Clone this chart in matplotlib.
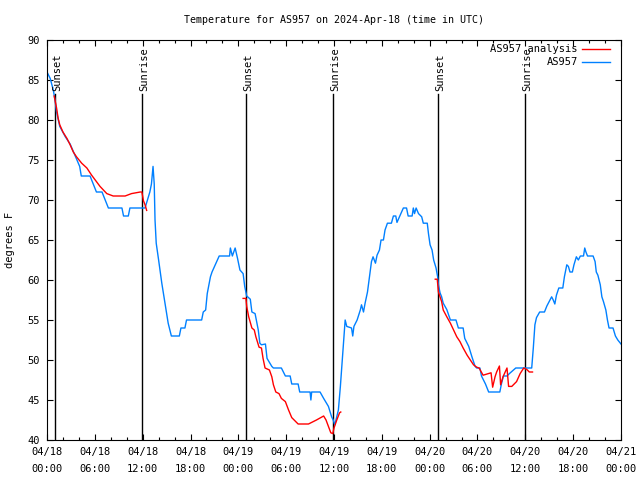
import matplotlib
matplotlib.use('Agg')
import matplotlib.pyplot as plt
import numpy as np

plt.rcParams['font.family'] = 'DejaVu Sans Mono'
plt.rcParams['font.size'] = 7

# hours since 2024-04-18 00:00 UTC
obs_hours = [0.0, 0.4, 0.8, 1.0, 1.2, 1.6, 2.3, 2.9, 3.5, 4.1, 4.3, 5.4, 5.8, 6.2, 6.9, 7.3, 7.7, 9.4, 9.6, 10.2,
             10.4, 12.3, 12.9, 13.1, 13.3, 13.45, 13.55, 13.7, 14.0, 14.4, 14.8, 15.2, 15.6, 16.6, 16.8, 17.3, 17.5,
             19.4, 19.6, 19.9, 20.1, 20.5, 20.7, 21.2, 21.6, 22.9, 23.0, 23.25, 23.6, 23.9, 24.2,
             24.6, 24.8, 25.05, 25.5, 25.7, 26.1, 26.5, 26.7, 26.9, 27.4, 27.6, 28.2, 28.4, 29.4, 29.9, 30.5, 30.7,
             31.5, 31.7, 33.0, 33.1, 33.2, 34.25, 34.7, 35.3, 35.7, 35.9, 36.1, 36.35, 36.55, 36.8, 37.1, 37.4, 37.6,
             38.2, 38.35, 38.5, 38.9, 39.3, 39.45, 39.7, 39.9, 40.2, 40.4, 40.7, 40.9, 41.2, 41.4, 41.7, 41.9, 42.2,
             42.4, 42.7, 43.2, 43.45, 43.75, 43.9, 44.3, 44.7, 45.1, 45.3, 45.8, 45.95, 46.1, 46.3, 46.6, 47.0, 47.2,
             47.7, 47.85, 48.05, 48.3, 48.5, 48.8, 49.0, 49.1, 49.3, 49.5, 49.7, 50.15, 50.6, 51.3, 51.6, 52.2, 52.4,
             52.9, 53.3, 53.7, 53.9, 54.3, 54.5, 55.0, 55.4, 56.8, 57.0, 57.25, 57.7, 58.0, 58.8, 60.8, 61.0, 61.1,
             61.2, 61.4, 61.8, 62.4, 62.7, 63.1, 63.3, 63.5, 63.7, 63.9, 64.2, 64.7, 64.9, 65.2, 65.4, 65.6, 65.9,
             66.1, 66.4, 66.65, 66.9, 67.3, 67.45, 67.6, 67.8, 68.5, 68.75, 68.9, 69.1, 69.4, 69.6, 69.8, 70.1, 70.3,
             70.5, 71.0, 71.3, 71.6, 72.0]
obs_temp = [86, 85.2, 83.7, 82.5, 81, 79.2, 77.9, 77, 75.6, 74.2, 73, 73, 72, 71, 71, 70, 69, 69, 68, 68,
            69, 69, 71, 72, 74.2, 72, 67.5, 64.6, 62.5, 59.6, 57.1, 54.6, 53, 53, 54, 54, 55,
            55, 56, 56.25, 58.3, 60.4, 61, 62.1, 63, 63, 64, 63, 64, 62.7, 61.25,
            60.8, 59.2, 58, 57.6, 56, 55.8, 53.75, 52.1, 51.9, 52, 50.2, 49.2, 49, 49, 48, 48, 47,
            47, 46, 46, 45, 46, 46, 45.2, 44.2, 42.9, 42.5, 41.9, 42.9, 43.75, 46.7, 50.8, 55, 54.2,
            54, 53, 54.2, 55, 56.25, 56.9, 56, 57.1, 58.5, 60, 62.3, 62.9, 62.1, 63.1, 63.75, 65, 65,
            66.25, 67.1, 67.1, 68, 68, 67.2, 68.1, 69, 69, 68, 68, 69, 68.3, 69, 68.3, 67.9, 67.1,
            67.1, 65.8, 64.4, 63.75, 62.5, 61.5, 60.4, 59.4, 58.4, 57.9, 57.1, 56.3, 55, 55, 54, 54, 52.7,
            51.7, 50.4, 49.2, 49, 49, 48, 47, 46, 46, 47, 48, 48, 48.3, 49, 49, 51.5, 53,
            54.4, 55.3, 56, 56, 56.75, 57.5, 57.9, 57.5, 57, 58.1, 59, 59, 60.4, 61.9, 61.7, 61, 61,
            61.9, 62.9, 62.5, 63, 63, 64, 63.5, 63, 63, 62.3, 61, 60.6, 59.4, 57.9, 57.3, 56.25, 55,
            54, 54, 53, 52.5, 52]

# analysis runs (three separate pieces)
ana1_hours = [0.9, 1.0, 1.2, 1.4, 1.6, 2.0, 2.5, 2.9, 3.3, 3.7, 4.35, 5.0, 5.6, 6.2, 6.65, 7.5, 8.3, 9.8,
              10.6, 11.7, 11.9, 12.1, 12.3, 12.5]
ana1_temp = [83, 82.5, 81.5, 80.2, 79.4, 78.5, 77.7, 76.9, 76, 75.4, 74.6, 74, 73.1, 72.3, 71.7, 70.8, 70.5, 70.5,
             70.8, 71, 71, 69.9, 69.4, 68.7]
ana2_hours = [24.6, 24.95, 25.05, 25.3, 25.7, 26.0, 26.2, 26.6, 26.9, 27.1, 27.35, 27.9, 28.2, 28.4, 28.7, 29.1,
              29.4, 29.9, 30.3, 30.7, 31.5, 32.8, 33.8, 34.7, 35.0, 35.3, 35.6, 35.85, 36.0, 36.35, 36.7, 36.85]
ana2_temp = [57.7, 57.7, 56.7, 55.4, 54, 53.75, 52.9, 51.6, 51.5, 50.2, 49, 48.75, 47.9, 46.9, 46, 45.8,
             45.2, 44.8, 43.75, 42.8, 42, 42, 42.5, 43, 42.5, 41.7, 40.9, 40.8, 41.5, 42.5, 43.4, 43.5]
ana3_hours = [48.7, 48.95, 49.1, 49.3, 49.5, 49.7, 50.15, 50.6, 51.0, 51.4, 51.8, 52.2, 52.7, 53.1, 53.5, 53.9,
              54.2, 54.7, 55.2, 55.7, 55.9, 56.2, 56.4, 56.75, 56.9, 57.2, 57.7, 57.9, 58.3, 58.9, 59.35, 59.8,
              60.2, 60.5, 60.9]
ana3_temp = [60.1, 60.1, 58.5, 57.9, 57.3, 56.25, 55.4, 54.6, 53.75, 52.9, 52.3, 51.5, 50.6, 50, 49.4, 49.1,
             49, 48.1, 48.25, 48.4, 46.6, 47.9, 48.5, 49.25, 46.9, 47.9, 49, 46.7, 46.7, 47.3, 48.3, 49,
             48.8, 48.5, 48.5]

sun_hours = [1.0, 11.9, 25.0, 35.9, 49.05, 60.0]
sun_labels = ['Sunset', 'Sunrise', 'Sunset', 'Sunrise', 'Sunset', 'Sunrise']

tick_hours = list(range(0, 73, 6))
tick_labels = ['04/18\n00:00', '04/18\n06:00', '04/18\n12:00', '04/18\n18:00',
               '04/19\n00:00', '04/19\n06:00', '04/19\n12:00', '04/19\n18:00',
               '04/20\n00:00', '04/20\n06:00', '04/20\n12:00', '04/20\n18:00', '04/21\n00:00']

red = '#ff0000'
blue = '#0080ff'

fig = plt.figure(figsize=(6.4, 4.8), dpi=100)
ax = fig.add_axes([47/640, 40/480, 574/640, 400/480])

for h, lab in zip(sun_hours, sun_labels):
    ax.plot([h, h], [40, 83.3], color='black', linewidth=1)
    ax.text(h + 0.25, 83.6, lab, rotation=90, ha='center', va='bottom', fontsize=7.5)

ax.plot(obs_hours, obs_temp, color=blue, linewidth=1)
ax.plot(ana1_hours, ana1_temp, color=red, linewidth=1)
ax.plot(ana2_hours, ana2_temp, color=red, linewidth=1)
ax.plot(ana3_hours, ana3_temp, color=red, linewidth=1)

# key, gnuplot style
ax.text(0.925, 0.9775, 'AS957 analysis', transform=ax.transAxes, ha='right', va='center', fontsize=7.5)
ax.plot([0.932, 0.981], [0.9775, 0.9775], color=red, linewidth=1, transform=ax.transAxes)
ax.text(0.925, 0.945, 'AS957', transform=ax.transAxes, ha='right', va='center', fontsize=7.5)
ax.plot([0.932, 0.981], [0.945, 0.945], color=blue, linewidth=1, transform=ax.transAxes)

ax.set_xlim(0, 72)
ax.set_ylim(40, 90)
ax.set_xticks(tick_hours)
ax.set_xticklabels(tick_labels, linespacing=1.9)
ax.set_xticks(np.arange(0, 73, 2), minor=True)
ax.set_yticks(np.arange(40, 91, 5))
ax.tick_params(which='both', direction='in', top=True, right=True, labelsize=7.5)
ax.tick_params(which='major', length=4.5, width=0.8)
ax.tick_params(which='minor', length=2.2, width=0.8)
ax.tick_params(axis='x', pad=5)
ax.tick_params(axis='y', pad=5)

ax.set_ylabel('degrees F', fontsize=7.5, labelpad=9)
ax.set_title('Temperature for AS957 on 2024-Apr-18 (time in UTC)', fontsize=7.2, pad=12)

fig.savefig('out.png', dpi=100, facecolor='white')
